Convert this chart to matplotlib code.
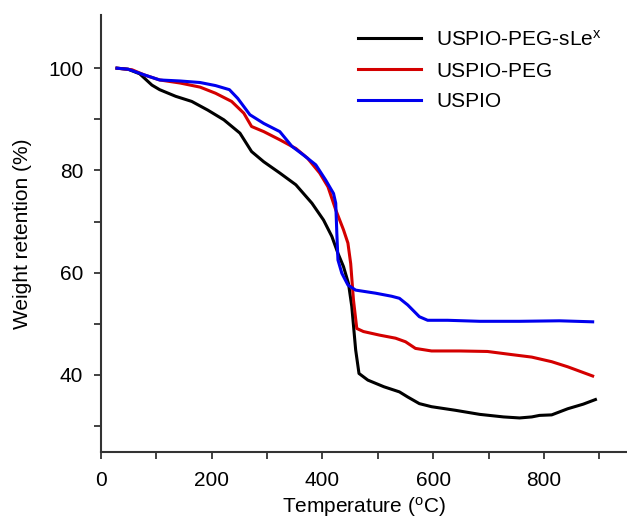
import matplotlib
matplotlib.use('Agg')
import matplotlib.pyplot as plt
from matplotlib.ticker import MultipleLocator

plt.rcParams['font.family'] = ['Liberation Sans', 'DejaVu Sans']
plt.rcParams['mathtext.default'] = 'regular'

# TGA curves (temperature in degC, weight in %)
temp_black = [29, 49, 70, 92, 106, 135, 164, 193, 222, 251, 272, 294, 323, 352, 381, 402,
              417, 428, 438, 447, 453, 460, 466, 482, 511, 539, 554, 575, 597, 640, 684,
              727, 756, 778, 792, 814, 843, 871, 893]
wt_black = [100, 99.8, 98.9, 96.7, 95.8, 94.5, 93.5, 91.8, 89.9, 87.3, 83.7, 81.7, 79.5,
            77.2, 73.6, 70.3, 67.1, 63.8, 61.2, 57.9, 53.4, 44.9, 40.3, 39.0, 37.7, 36.7,
            35.7, 34.4, 33.8, 33.1, 32.3, 31.8, 31.6, 31.8, 32.1, 32.2, 33.4, 34.3, 35.2]

temp_red = [29, 56, 78, 106, 143, 179, 207, 236, 258, 272, 294, 323, 352, 373, 395, 410,
            424, 438, 446, 451, 456, 462, 474, 503, 532, 550, 568, 597, 648, 698, 741,
            778, 814, 843, 888]
wt_red = [100, 99.7, 98.7, 97.7, 97.1, 96.3, 95.1, 93.5, 91.2, 88.6, 87.6, 86.0, 84.3,
          82.4, 79.5, 76.8, 72.3, 68.4, 65.8, 61.8, 54.7, 49.1, 48.5, 47.8, 47.2, 46.5,
          45.2, 44.7, 44.7, 44.6, 44.0, 43.5, 42.6, 41.6, 39.8]

temp_blue = [29, 49, 78, 106, 143, 179, 207, 232, 247, 269, 294, 323, 345, 366, 388, 406,
             420, 424, 426, 428, 435, 446, 460, 496, 525, 539, 554, 575, 590, 626, 684,
             756, 828, 888]
wt_blue = [100, 99.8, 98.7, 97.7, 97.5, 97.2, 96.6, 95.8, 94.1, 90.9, 89.2, 87.6, 84.7,
           83.0, 81.1, 78.1, 75.5, 73.6, 67.7, 62.5, 59.9, 57.6, 56.6, 56.0, 55.4, 55.0,
           53.7, 51.4, 50.7, 50.7, 50.5, 50.5, 50.6, 50.4]

fig = plt.figure(figsize=(6.27, 5.18), dpi=100)
ax = fig.add_axes([0.161, 0.128, 0.839, 0.843])

ax.plot(temp_black, wt_black, color='black', lw=2.2, label='USPIO-PEG-sLe$^{x}$')
ax.plot(temp_red, wt_red, color='#d40000', lw=2.2, label='USPIO-PEG')
ax.plot(temp_blue, wt_blue, color='#0000ee', lw=2.2, label='USPIO')

ax.set_xlim(0, 950)
ax.set_ylim(25, 110.4)
ax.xaxis.set_major_locator(MultipleLocator(200))
ax.xaxis.set_minor_locator(MultipleLocator(100))
ax.set_yticks([40, 60, 80, 100])
ax.set_yticks([30, 50, 70, 90], minor=True)

for s in ['top', 'right']:
    ax.spines[s].set_visible(False)
for s in ['left', 'bottom']:
    ax.spines[s].set_linewidth(1.5)
    ax.spines[s].set_color('#333333')
ax.tick_params(which='both', direction='out', width=1.3, color='#333333',
               length=4.7, labelsize=15)
ax.tick_params(axis='y', pad=8)
ax.tick_params(axis='x', pad=9)

ax.set_xlabel('Temperature ($^{o}$C)', fontsize=15, labelpad=3.5)
ax.set_ylabel('Weight retention (%)', fontsize=15, labelpad=12)

ax.legend(loc='upper left', bbox_to_anchor=(0.541, 0.979), bbox_transform=fig.transFigure,
          frameon=False, fontsize=15, handlelength=3.05, handletextpad=0.7,
          labelspacing=0.57)

fig.savefig('out.png', dpi=100)
